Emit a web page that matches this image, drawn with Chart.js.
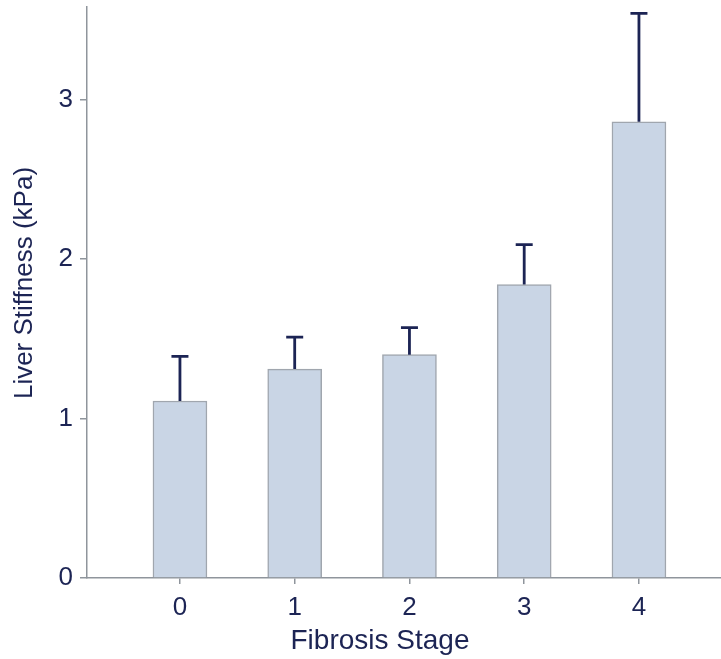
<!DOCTYPE html>
<html>
<head>
<meta charset="utf-8">
<title>Liver Stiffness by Fibrosis Stage</title>
<script src="https://cdn.jsdelivr.net/npm/chart.js@4/dist/chart.umd.min.js"></script>
<style>
  html, body { margin: 0; padding: 0; background: #fff; }
  #wrap { width: 721px; height: 659px; }
</style>
</head>
<body>
<div id="wrap"><canvas id="chart" width="721" height="659"></canvas></div>
<script>
// Dados
const stages = [0, 1, 2, 3, 4];
const meanStiffness = [1.11, 1.31, 1.40, 1.84, 2.86];
const upperError = [1.39, 1.51, 1.57, 2.09, 3.54];
const yTicks = [0, 1, 2, 3];
const xTitle = 'Fibrosis Stage';
const yTitle = 'Liver Stiffness (kPa)';

const navy = '#1c2454';
const axisGray = '#8f959c';
const fontFamily = 'Liberation Sans, Arial, sans-serif';

// Barras de erro (apenas para cima, com "T")
const errorBarPlugin = {
    id: 'errorBars',
    afterDatasetsDraw(chart) {
        const { ctx, scales: { x, y } } = chart;
        ctx.save();
        ctx.strokeStyle = navy;
        ctx.lineWidth = 2.8;
        stages.forEach((s, i) => {
            const px = x.getPixelForValue(s);
            const yBar = y.getPixelForValue(meanStiffness[i]);
            const yTop = y.getPixelForValue(upperError[i]);
            ctx.beginPath();
            ctx.moveTo(px, yBar);
            ctx.lineTo(px, yTop);
            ctx.moveTo(px - 8.5, yTop);
            ctx.lineTo(px + 8.5, yTop);
            ctx.stroke();
        });
        ctx.restore();
    }
};

// Títulos dos eixos (posicionados como na figura original)
const axisTitlePlugin = {
    id: 'axisTitles',
    afterDraw(chart) {
        const { ctx } = chart;
        ctx.save();
        ctx.fillStyle = navy;
        ctx.textAlign = 'center';
        ctx.textBaseline = 'middle';

        ctx.font = `28px ${fontFamily}`;
        ctx.fillText(xTitle, 380, 641);

        ctx.font = `26px ${fontFamily}`;
        ctx.translate(25, 283);
        ctx.rotate(-Math.PI / 2);
        ctx.fillText(yTitle, 0, 0);
        ctx.restore();
    }
};

const ctx = document.getElementById('chart');
new Chart(ctx, {
    type: 'bar',
    data: {
        datasets: [{
            label: 'Liver Stiffness',
            data: stages.map((s, i) => ({ x: s, y: meanStiffness[i] })),
            backgroundColor: '#c9d5e5',
            borderColor: '#a0a6ae',
            borderWidth: 1.5,
            borderSkipped: 'bottom',
            barThickness: 54
        }]
    },
    options: {
        responsive: false,
        animation: false,
        layout: { padding: { top: 7, right: 0, left: 0, bottom: 0 } },
        plugins: {
            legend: { display: false },
            tooltip: { enabled: false }
        },
        scales: {
            x: {
                type: 'linear',
                offset: false,
                min: -0.81,
                max: 4.715,
                afterBuildTicks: scale => { scale.ticks = stages.map(v => ({ value: v })); },
                afterFit: scale => {
                    scale.height = 81;
                    scale.paddingLeft = 0;
                    scale.paddingRight = 0;
                },
                grid: { offset: false, drawOnChartArea: false, tickLength: 6, color: axisGray, lineWidth: 1.5 },
                border: { color: axisGray, width: 1.5 },
                ticks: {
                    color: navy,
                    padding: 8,
                    maxRotation: 0,
                    font: { family: fontFamily, size: 26 }
                },
                title: { display: false }
            },
            y: {
                min: 0,
                max: 3.58,
                afterBuildTicks: scale => { scale.ticks = yTicks.map(v => ({ value: v })); },
                afterFit: scale => {
                    scale.width = 87;
                    scale.paddingTop = 0;
                    scale.paddingBottom = 0;
                },
                grid: { drawOnChartArea: false, tickLength: 7, color: axisGray, lineWidth: 1.5 },
                border: { color: axisGray, width: 1.5 },
                ticks: {
                    color: navy,
                    padding: 7,
                    font: { family: fontFamily, size: 26 }
                },
                title: { display: false }
            }
        }
    },
    plugins: [errorBarPlugin, axisTitlePlugin]
});
</script>
</body>
</html>
